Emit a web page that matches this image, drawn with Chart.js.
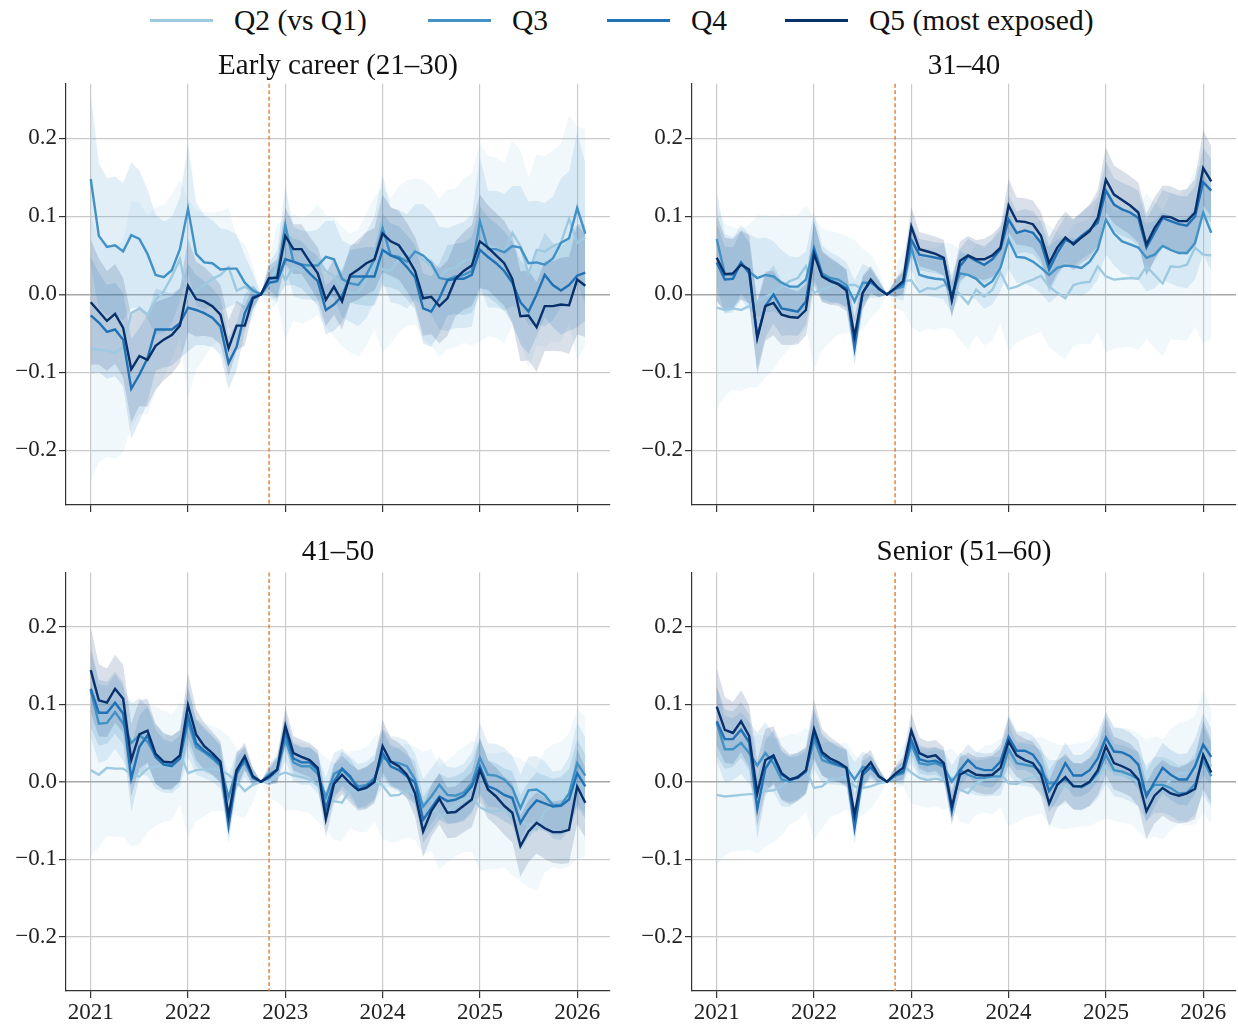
<!DOCTYPE html>
<html>
<head>
<meta charset="utf-8">
<script src="https://cdn.jsdelivr.net/npm/chart.js@4/dist/chart.umd.min.js"></script>
<style>
  body { margin: 0; background: #fff; width: 1238px; height: 1025px; position: relative; overflow: hidden; }
  canvas { position: absolute; }
  .leg { position: absolute; top: 0; height: 40px; display: flex; align-items: center;
         font-family: 'Liberation Serif', 'Times New Roman', serif; font-size: 29.5px; color: #111; white-space: nowrap; }
  .leg span.ln { display: inline-block; width: 63px; height: 3px; margin-right: 21px; }
</style>
</head>
<body>
<div id="legend"></div>
<canvas id="c1" width="626" height="481" style="left:0;top:40px"></canvas>
<canvas id="c2" width="612" height="481" style="left:626px;top:40px"></canvas>
<canvas id="c3" width="626" height="497" style="left:0;top:528px"></canvas>
<canvas id="c4" width="612" height="497" style="left:626px;top:528px"></canvas>
<script>
// months: Jan 2021 (index 0) .. Feb 2026 (index 61)
const yearTicks = [0, 12, 24, 36, 48, 60];
const yearLabels = ['2021', '2022', '2023', '2024', '2025', '2026'];
const yTicks = [-0.2, -0.1, 0.0, 0.1, 0.2];
const refMonth = 22; // Nov 2022 marker
const seriesNames = ['Q2 (vs Q1)', 'Q3', 'Q4', 'Q5 (most exposed)'];
const seriesColors = ['#9ecae1', '#4292c6', '#2171b5', '#08306b'];
const panelTitles = ['Early career (21\u201330)', '31\u201340', '41\u201350', 'Senior (51\u201360)'];

// Early career (21-30)
const earlyQ2 = [-0.069, -0.071, -0.072, -0.075, -0.067, -0.024, -0.018, -0.026, -0.007, 0.004, 0.023, 0.045,
  -0.005, 0.005, 0.012, 0.020, 0.025, 0.035, 0.005, 0.010, 0.003, 0,
  0.012, 0.040, 0.018, 0.035, 0.030, 0.035, 0.045, 0.030,
  0.023, 0.010, 0.002, 0.002, 0.019, 0.040, 0.032, 0.030, 0.045, 0.053, 0.055, 0.045, 0.036, 0.021, 0.032, 0.034,
  0.043, 0.045, 0.066, 0.062, 0.060, 0.053, 0.079, 0.062, 0.027, 0.057, 0.055, 0.062, 0.066, 0.097, 0.066, 0.073];
const earlyQ3 = [0.148, 0.075, 0.061, 0.063, 0.055, 0.076, 0.071, 0.052, 0.025, 0.022, 0.031, 0.058,
  0.110, 0.052, 0.041, 0.040, 0.032, 0.033, 0.033, 0.015, 0.005, 0,
  0.019, 0.023, 0.089, 0.042, 0.038, 0.037, 0.037, 0.048,
  0.045, 0.020, 0.014, 0.012, 0.025, 0.045, 0.085, 0.050, 0.048, 0.042, 0.055, 0.050, 0.040, 0.021, 0.019, 0.023,
  0.025, 0.030, 0.094, 0.058, 0.058, 0.054, 0.062, 0.060, 0.040, 0.041, 0.038, 0.046, 0.066, 0.072, 0.111, 0.078];
const earlyQ4 = [-0.027, -0.036, -0.048, -0.045, -0.058, -0.121, -0.103, -0.082, -0.045, -0.045, -0.045, -0.037,
  -0.017, -0.020, -0.024, -0.030, -0.041, -0.088, -0.067, -0.024, -0.003, 0,
  0.015, 0.017, 0.045, 0.042, 0.038, 0.027, 0.017, -0.020,
  -0.013, -0.002, 0.023, 0.023, 0.023, 0.023, 0.057, 0.050, 0.046, 0.035, 0.022, -0.018, -0.022, -0.005, 0.018, 0.020,
  0.020, 0.025, 0.057, 0.048, 0.040, 0.030, 0.015, -0.010, -0.022, 0.000, 0.025, 0.012, 0.005, 0.012, 0.024, 0.028];
const earlyQ5 = [-0.010, -0.022, -0.034, -0.025, -0.043, -0.096, -0.079, -0.084, -0.066, -0.058, -0.052, -0.040,
  0.011, -0.006, -0.009, -0.015, -0.026, -0.069, -0.040, -0.040, -0.005, 0,
  0.021, 0.021, 0.075, 0.058, 0.058, 0.042, 0.027, -0.007,
  0.010, -0.009, 0.025, 0.032, 0.040, 0.045, 0.078, 0.068, 0.063, 0.048, 0.030, -0.005, -0.003, -0.015, -0.005, 0.020,
  0.030, 0.037, 0.068, 0.060, 0.050, 0.040, 0.020, -0.028, -0.027, -0.042, -0.015, -0.015, -0.013, -0.014, 0.019, 0.011];

// 31-40
const mid1Q2 = [-0.017, -0.020, -0.018, -0.020, -0.015, -0.009, -0.003, 0.002, 0.010, 0.017, 0.021, 0.036,
  0.002, 0.006, 0.010, 0.014, 0.012, 0.012, 0.007, 0.010, 0.006, 0,
  0.009, 0.017, 0.018, 0.003, 0.008, 0.007, 0.012, 0.010,
  0.000, -0.012, 0.006, -0.003, 0.006, 0.028, 0.007, 0.010, 0.015, 0.019, 0.024, 0.010, 0.002, -0.005, 0.012, 0.015,
  0.016, 0.036, 0.023, 0.019, 0.020, 0.021, 0.020, 0.036, 0.025, 0.014, 0.036, 0.035, 0.038, 0.060, 0.051, 0.050];
const mid1Q3 = [0.071, 0.026, 0.025, 0.041, 0.029, 0.021, 0.025, 0.023, 0.015, 0.010, 0.010, 0.019,
  0.060, 0.027, 0.021, 0.019, 0.012, -0.009, 0.015, 0.015, 0.008, 0,
  0.007, 0.010, 0.060, 0.025, 0.022, 0.020, 0.019, 0.000,
  0.027, 0.025, 0.020, 0.010, 0.017, 0.034, 0.070, 0.048, 0.047, 0.042, 0.034, 0.025, 0.034, 0.037, 0.036, 0.034,
  0.042, 0.058, 0.096, 0.078, 0.068, 0.064, 0.060, 0.047, 0.051, 0.062, 0.057, 0.053, 0.053, 0.066, 0.105, 0.079];
const mid1Q4 = [0.041, 0.019, 0.020, 0.041, 0.027, -0.054, -0.015, 0.000, -0.018, -0.020, -0.022, -0.009,
  0.057, 0.024, 0.018, 0.014, 0.008, -0.069, 0.002, 0.017, 0.007, 0,
  0.007, 0.014, 0.070, 0.051, 0.049, 0.047, 0.045, -0.007,
  0.036, 0.049, 0.043, 0.038, 0.045, 0.058, 0.096, 0.079, 0.082, 0.079, 0.066, 0.032, 0.053, 0.070, 0.066, 0.075,
  0.083, 0.092, 0.133, 0.115, 0.109, 0.105, 0.098, 0.060, 0.079, 0.098, 0.094, 0.090, 0.088, 0.100, 0.144, 0.133];
const mid1Q5 = [0.047, 0.026, 0.027, 0.038, 0.032, -0.056, -0.015, -0.011, -0.026, -0.029, -0.030, -0.020,
  0.052, 0.023, 0.017, 0.013, 0.005, -0.054, 0.002, 0.019, 0.007, 0,
  0.008, 0.017, 0.087, 0.058, 0.055, 0.052, 0.047, -0.007,
  0.043, 0.050, 0.045, 0.045, 0.050, 0.060, 0.114, 0.094, 0.093, 0.090, 0.075, 0.040, 0.060, 0.073, 0.064, 0.073,
  0.081, 0.098, 0.147, 0.128, 0.121, 0.114, 0.105, 0.064, 0.085, 0.100, 0.099, 0.094, 0.094, 0.105, 0.162, 0.145];

// 41-50
const mid2Q2 = [0.015, 0.009, 0.018, 0.017, 0.017, 0.010, 0.007, 0.017, 0.020, 0.020, 0.018, 0.037,
  0.011, 0.015, 0.016, 0.017, 0.015, 0.009, 0.000, -0.012, -0.004, 0,
  0.000, 0.008, 0.012, 0.008, 0.006, 0.003, -0.005, -0.015,
  -0.025, -0.027, -0.010, -0.012, -0.010, 0.003, -0.005, -0.018, -0.017, -0.011, -0.015, -0.028, -0.023, -0.047, -0.038, -0.030,
  -0.023, -0.019, -0.033, -0.038, -0.038, -0.036, -0.044, -0.049, -0.057, -0.062, -0.038, -0.031, -0.031, -0.023, -0.003, -0.006];
const mid2Q3 = [0.118, 0.075, 0.076, 0.090, 0.075, 0.050, 0.060, 0.052, 0.033, 0.025, 0.022, 0.030,
  0.077, 0.045, 0.038, 0.030, 0.020, -0.020, 0.015, 0.025, 0.005, 0,
  0.010, 0.015, 0.055, 0.025, 0.020, 0.020, 0.010, -0.020,
  0.010, 0.016, 0.005, -0.006, -0.004, 0.005, 0.031, 0.026, 0.024, 0.020, 0.003, -0.032, -0.019, -0.004, -0.017, -0.018,
  -0.014, -0.002, 0.031, 0.009, 0.008, 0.003, -0.008, -0.034, -0.011, -0.010, -0.017, -0.030, -0.030, -0.015, 0.024, 0.008];
const mid2Q4 = [0.120, 0.089, 0.089, 0.102, 0.088, 0.004, 0.045, 0.060, 0.032, 0.022, 0.020, 0.030,
  0.085, 0.050, 0.040, 0.033, 0.022, -0.057, 0.010, 0.030, 0.005, 0,
  0.005, 0.015, 0.065, 0.030, 0.025, 0.025, 0.015, -0.035,
  0.000, 0.017, 0.007, -0.010, -0.006, 0.003, 0.037, 0.020, 0.015, 0.007, -0.001, -0.049, -0.034, -0.019, -0.025, -0.023,
  -0.018, -0.006, 0.020, -0.006, -0.010, -0.017, -0.021, -0.053, -0.036, -0.024, -0.028, -0.032, -0.031, -0.023, 0.011, -0.006];
const mid2Q5 = [0.144, 0.105, 0.102, 0.120, 0.107, 0.028, 0.061, 0.066, 0.036, 0.026, 0.025, 0.034,
  0.099, 0.061, 0.046, 0.037, 0.026, -0.044, 0.015, 0.033, 0.007, 0,
  0.007, 0.016, 0.072, 0.037, 0.032, 0.028, 0.018, -0.048,
  -0.003, 0.009, -0.002, -0.011, -0.008, 0.000, 0.046, 0.026, 0.020, 0.009, -0.015, -0.064, -0.038, -0.022, -0.040, -0.039,
  -0.031, -0.023, 0.015, -0.010, -0.019, -0.031, -0.040, -0.083, -0.064, -0.053, -0.060, -0.065, -0.065, -0.062, -0.006, -0.027];

// Senior (51-60)
const seniorQ2 = [-0.017, -0.019, -0.018, -0.017, -0.016, -0.016, -0.012, -0.011, -0.006, 0.003, 0.006, 0.016,
  -0.008, -0.006, 0.003, 0.004, 0.007, -0.006, -0.008, -0.006, -0.002, 0,
  0.009, 0.021, 0.012, 0.005, 0.002, 0.004, 0.002, 0.005,
  -0.010, -0.015, -0.002, 0.003, 0.003, 0.011, -0.002, -0.003, 0.003, 0.006, 0.009, -0.001, -0.006, -0.007, -0.005, -0.004,
  -0.002, 0.007, 0.020, 0.011, 0.008, 0.007, -0.001, -0.010, -0.006, -0.010, 0.003, 0.011, 0.011, 0.015, 0.039, 0.020];
const seniorQ3 = [0.076, 0.042, 0.042, 0.050, 0.037, 0.021, 0.037, 0.024, 0.003, 0.000, 0.007, 0.013,
  0.054, 0.028, 0.024, 0.021, 0.018, 0.003, 0.019, 0.018, 0.007, 0,
  0.008, 0.011, 0.048, 0.024, 0.022, 0.024, 0.019, 0.000,
  0.015, 0.009, 0.005, 0.005, 0.007, 0.007, 0.042, 0.024, 0.022, 0.020, 0.013, -0.002, -0.002, 0.003, -0.005, -0.007,
  -0.001, 0.011, 0.035, 0.015, 0.013, 0.009, 0.003, -0.015, -0.004, -0.004, -0.008, -0.015, -0.014, -0.003, 0.028, 0.007];
const seniorQ4 = [0.078, 0.055, 0.055, 0.067, 0.051, -0.035, 0.017, 0.033, 0.009, 0.003, 0.005, 0.013,
  0.061, 0.035, 0.026, 0.022, 0.018, -0.060, 0.009, 0.019, 0.007, 0,
  0.009, 0.013, 0.054, 0.029, 0.026, 0.027, 0.022, -0.038,
  0.015, 0.028, 0.018, 0.015, 0.015, 0.026, 0.058, 0.040, 0.040, 0.035, 0.020, -0.012, 0.003, 0.024, 0.008, 0.008,
  0.015, 0.030, 0.057, 0.039, 0.038, 0.033, 0.022, -0.019, 0.000, 0.018, 0.009, 0.003, 0.003, 0.020, 0.048, 0.032];
const seniorQ5 = [0.097, 0.067, 0.063, 0.078, 0.059, -0.015, 0.028, 0.034, 0.011, 0.003, 0.006, 0.015,
  0.068, 0.038, 0.030, 0.025, 0.018, -0.043, 0.013, 0.025, 0.007, 0,
  0.010, 0.018, 0.066, 0.037, 0.032, 0.034, 0.024, -0.032,
  0.009, 0.015, 0.009, 0.008, 0.009, 0.018, 0.052, 0.034, 0.028, 0.024, 0.009, -0.028, -0.004, 0.006, -0.006, -0.006,
  0.000, 0.015, 0.046, 0.024, 0.020, 0.015, 0.003, -0.038, -0.018, -0.008, -0.015, -0.018, -0.015, -0.009, 0.035, 0.012];

// relative width of the confidence bands by month (zero at the reference month, Oct 2022)
const bandShape = [1.0, 0.85, 0.8, 0.8, 0.8, 0.85, 0.8, 0.75, 0.7, 0.65, 0.62, 0.6,
  0.75, 0.6, 0.55, 0.5, 0.48, 0.45, 0.4, 0.32, 0.2, 0,
  0.2, 0.3, 0.45, 0.4, 0.4, 0.4, 0.42, 0.42, 0.45, 0.45, 0.45, 0.48, 0.5, 0.5,
  0.62, 0.55, 0.55, 0.55, 0.55, 0.6, 0.6, 0.6, 0.6, 0.6, 0.62, 0.65,
  0.75, 0.68, 0.68, 0.68, 0.7, 0.72, 0.72, 0.72, 0.72, 0.72, 0.75, 0.78, 0.88, 0.82];
// band half-width per quintile (Q2..Q5) in each panel
const earlyBand = [0.17, 0.11, 0.075, 0.08];
const mid1Band = [0.13, 0.06, 0.05, 0.055];
const mid2Band = [0.11, 0.06, 0.05, 0.055];
const seniorBand = [0.09, 0.05, 0.045, 0.05];

const fontFamily = "'Liberation Serif', 'Times New Roman', serif";

// legend
const legendX = [150, 428, 607, 785];
const legendBox = document.getElementById('legend');
seriesNames.forEach((name, i) => {
    const item = document.createElement('div');
    item.className = 'leg';
    item.style.left = legendX[i] + 'px';
    item.innerHTML = '<span class="ln" style="background:' + seriesColors[i] + '"></span>' + name;
    legendBox.appendChild(item);
});

let hexToRgba = (hex, a) => {
    const n = parseInt(hex.slice(1), 16);
    return 'rgba(' + (n >> 16) + ',' + ((n >> 8) & 255) + ',' + (n & 255) + ',' + a + ')';
};

const refLinePlugin = {
    id: 'refLine',
    beforeDatasetsDraw(chart) {
        const ctx = chart.ctx;
        const x = chart.scales.x.getPixelForValue(refMonth);
        ctx.save();
        ctx.strokeStyle = '#e6731a';
        ctx.lineWidth = 1.3;
        ctx.setLineDash([4, 2.5]);
        ctx.beginPath();
        ctx.moveTo(x, chart.chartArea.top);
        ctx.lineTo(x, chart.chartArea.bottom);
        ctx.stroke();
        ctx.restore();
    }
};

function makePanel(id, title, series, bands, showX, box) {
    const datasets = [];
    series.forEach((vals, k) => {
        const upper = vals.map((v, i) => ({ x: i, y: v + bands[k] * bandShape[i] }));
        const lower = vals.map((v, i) => ({ x: i, y: v - bands[k] * bandShape[i] }));
        datasets.push({ data: upper, borderWidth: 0, pointRadius: 0, fill: false, order: 100 - k });
        datasets.push({ data: lower, borderWidth: 0, pointRadius: 0, fill: '-1',
            backgroundColor: hexToRgba(seriesColors[k], k === 0 ? 0.14 : 0.15), order: 100 - k });
    });
    series.forEach((vals, k) => {
        datasets.push({
            label: seriesNames[k],
            data: vals.map((v, i) => ({ x: i, y: v })),
            borderColor: seriesColors[k],
            borderWidth: 2.4,
            pointRadius: 0,
            fill: false,
            order: 10 - k
        });
    });
    const tickFont = { family: fontFamily, size: 23 };
    return new Chart(document.getElementById(id), {
        type: 'line',
        data: { datasets: datasets },
        options: {
            responsive: false,
            animation: false,
            layout: { padding: { left: 0, right: box.padRight, top: 0, bottom: 0 } },
            elements: { line: { tension: 0 } },
            plugins: {
                legend: { display: false },
                tooltip: { enabled: false },
                title: {
                    display: true,
                    text: title,
                    fullSize: false,
                    color: '#111',
                    font: { family: fontFamily, size: 29, weight: 'normal', lineHeight: 1.2 },
                    padding: { top: box.titleTop, bottom: box.titleBottom }
                }
            },
            scales: {
                x: {
                    type: 'linear',
                    min: -3.05,
                    max: 64.05,
                    afterBuildTicks: (scale) => { scale.ticks = yearTicks.map(v => ({ value: v })); },
                    afterFit: (scale) => { scale.height = box.xHeight; },
                    ticks: {
                        display: showX,
                        autoSkip: false,
                        maxRotation: 0,
                        padding: 1,
                        color: '#222',
                        font: tickFont,
                        callback: (v) => yearLabels[yearTicks.indexOf(v)]
                    },
                    grid: { color: '#cacaca', lineWidth: 1.2, tickLength: 7, tickColor: '#333', tickWidth: 1.2 },
                    border: { color: '#333', width: 1.2 }
                },
                y: {
                    min: -0.27,
                    max: 0.27,
                    afterBuildTicks: (scale) => { scale.ticks = yTicks.map(v => ({ value: v })); },
                    afterFit: (scale) => { scale.width = box.yWidth; },
                    ticks: {
                        padding: 2,
                        color: '#222',
                        font: tickFont,
                        callback: (v) => v.toFixed(1).replace('-', '\u2212')
                    },
                    grid: {
                        color: (c) => (c.tick && Math.abs(c.tick.value) < 1e-9) ? '#a6a6a6' : '#cacaca',
                        lineWidth: (c) => (c.tick && Math.abs(c.tick.value) < 1e-9) ? 1.6 : 1.2,
                        tickLength: 7, tickColor: '#333', tickWidth: 1.2
                    },
                    border: { color: '#333', width: 1.2 }
                }
            }
        },
        plugins: [refLinePlugin]
    });
}

const topBox = { padRight: 16, titleTop: 9, titleBottom: 0, xHeight: 16, yWidth: 66 };
const topBoxR = { padRight: 2, titleTop: 9, titleBottom: 0, xHeight: 16, yWidth: 66 };
const botBox = { padRight: 16, titleTop: 7, titleBottom: 2.7, xHeight: 34, yWidth: 66 };
const botBoxR = { padRight: 2, titleTop: 7, titleBottom: 2.7, xHeight: 34, yWidth: 66 };

makePanel('c1', panelTitles[0], [earlyQ2, earlyQ3, earlyQ4, earlyQ5], earlyBand, false, topBox);
makePanel('c2', panelTitles[1], [mid1Q2, mid1Q3, mid1Q4, mid1Q5], mid1Band, false, topBoxR);
makePanel('c3', panelTitles[2], [mid2Q2, mid2Q3, mid2Q4, mid2Q5], mid2Band, true, botBox);
makePanel('c4', panelTitles[3], [seniorQ2, seniorQ3, seniorQ4, seniorQ5], seniorBand, true, botBoxR);
</script>
</body>
</html>
